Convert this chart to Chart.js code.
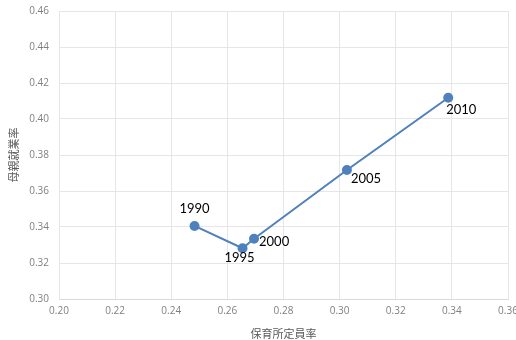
<!DOCTYPE html>
<html>
<head>
<meta charset="utf-8">
<script src="https://cdn.jsdelivr.net/npm/chart.js@4"></script>
<style>
  html, body { margin: 0; padding: 0; background: #fff; }
  #wrap { width: 516px; height: 340px; }
</style>
</head>
<body>
<div id="wrap"><canvas id="c" width="516" height="340"></canvas></div>
<script>
// Survey years and the two rates for each year
const years = ['1990', '1995', '2000', '2005', '2010'];
const nurseryCapacityRate = [0.2483, 0.2654, 0.2695, 0.3026, 0.3387];
const motherEmploymentRate = [0.3406, 0.3282, 0.3335, 0.3717, 0.4118];
const xTicks = [0.20, 0.22, 0.24, 0.26, 0.28, 0.30, 0.32, 0.34, 0.36];
const yTicks = [0.30, 0.32, 0.34, 0.36, 0.38, 0.40, 0.42, 0.44, 0.46];

// Where each year label sits relative to its point
const labelPlacement = [
  { dx: 0, dy: -17, align: 'center' },
  { dx: -3, dy: 10, align: 'center' },
  { dx: 5, dy: 3, align: 'left' },
  { dx: 4, dy: 9, align: 'left' },
  { dx: -2, dy: 12, align: 'left' }
];

const points = nurseryCapacityRate.map((x, i) => ({ x: x, y: motherEmploymentRate[i] }));

const yearLabels = {
  id: 'yearLabels',
  afterDatasetsDraw(chart) {
    const ctx = chart.ctx;
    const meta = chart.getDatasetMeta(0);
    ctx.save();
    ctx.font = '13px Lato, "Liberation Sans", sans-serif';
    ctx.fillStyle = '#000';
    ctx.textBaseline = 'middle';
    meta.data.forEach((pt, i) => {
      const p = labelPlacement[i];
      ctx.textAlign = p.align;
      ctx.fillText(years[i], pt.x + p.dx, pt.y + p.dy);
    });
    ctx.restore();
  }
};

const tickFont = { family: '"Open Sans", "Noto Sans", sans-serif', size: 10 };
const titleFont = { family: '"Noto Sans CJK JP", sans-serif', size: 11 };

new Chart(document.getElementById('c'), {
  type: 'scatter',
  data: {
    datasets: [{
      data: points,
      showLine: true,
      borderColor: '#4f81bd',
      backgroundColor: '#4f81bd',
      borderWidth: 2,
      pointRadius: 4,
      pointHoverRadius: 4
    }]
  },
  options: {
    responsive: false,
    animation: false,
    layout: { padding: { top: 11, right: 8, left: 0, bottom: 0 } },
    plugins: { legend: { display: false }, tooltip: { enabled: false } },
    scales: {
      x: {
        type: 'linear',
        min: 0.20, max: 0.36,
        afterBuildTicks(scale) { scale.ticks = xTicks.map(v => ({ value: v })); },
        afterFit(scale) { scale.height = 41; scale.paddingLeft = 0; scale.paddingRight = 0; },
        ticks: {
          color: '#808080', font: tickFont, padding: 6, maxRotation: 0,
          callback: v => v.toFixed(2)
        },
        grid: { color: '#e6e6e6', drawTicks: false },
        border: { color: '#d9d9d9' },
        title: { display: true, text: '保育所定員率', color: '#595959', font: titleFont, padding: { top: 2, bottom: 0 } }
      },
      y: {
        type: 'linear',
        min: 0.30, max: 0.46,
        afterBuildTicks(scale) { scale.ticks = yTicks.map(v => ({ value: v })); },
        afterFit(scale) { scale.width = 59; scale.paddingTop = 0; scale.paddingBottom = 0; },
        ticks: {
          color: '#808080', font: tickFont, padding: 10,
          callback: v => v.toFixed(2)
        },
        grid: { color: '#e6e6e6', drawTicks: false },
        border: { color: '#e6e6e6' },
        title: { display: true, text: '母親就業率', color: '#595959', font: titleFont, padding: { top: 7, bottom: 0 } }
      }
    }
  },
  plugins: [yearLabels]
});
</script>
</body>
</html>
